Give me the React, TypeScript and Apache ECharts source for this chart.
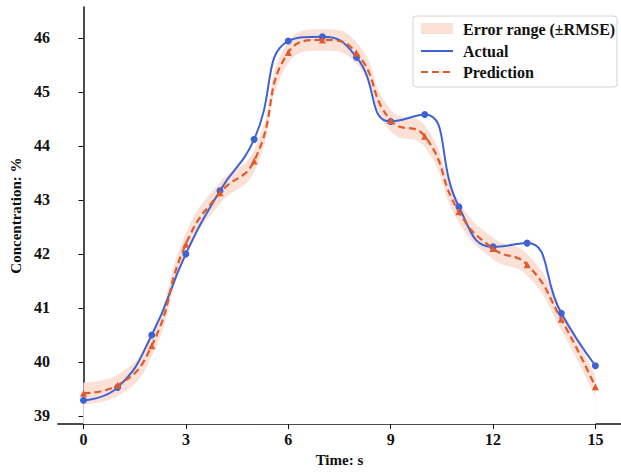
import React, { useEffect, useRef } from "react";
import * as echarts from "echarts";

const times = [0, 1, 2, 3, 4, 5, 6, 7, 8, 9, 10, 11, 12, 13, 14, 15];
const actual = [39.29, 39.53, 40.5, 42.0, 43.17, 44.12, 45.94, 46.02, 45.64, 44.45, 44.58, 42.87, 42.13, 42.2, 40.9, 39.93];
const prediction = [39.42, 39.57, 40.3, 42.18, 43.13, 43.72, 45.73, 45.96, 45.72, 44.47, 44.18, 42.78, 42.1, 41.8, 40.79, 39.54];
const RMSE = 0.2;
const xTicks = [0, 3, 6, 9, 12, 15];
const yTicks = [39, 40, 41, 42, 43, 44, 45, 46];

const FONT = "'Liberation Serif', 'Times New Roman', serif";
const BLUE = "#3d62d6";
const ORANGE = "#e05a2c";
const BAND = "#fbe0d5";

export default function App() {
  const ref = useRef<HTMLDivElement>(null);
  useEffect(() => {
    if (!ref.current) return;
    const chart = echarts.init(ref.current, null, { renderer: "svg" });
    const upper = prediction.map((v, i) => [times[i], v + RMSE]);
    const lower = prediction.map((v, i) => [times[i], v - RMSE]);
    const axisText = { fontFamily: FONT, fontWeight: "bold", fontSize: 16, color: "#111" };
    const SM = 0.5;
    chart.setOption({
      animation: false,
      backgroundColor: "#fff",
      grid: { left: 52, top: 7, width: 580, height: 422, containLabel: false },
      xAxis: {
        type: "value",
        min: -0.75,
        max: 15.75,
        name: "Time: s",
        nameLocation: "middle",
        nameGap: 27,
        nameTextStyle: { ...axisText, fontSize: 15 },
        axisLine: { show: true, lineStyle: { color: "#111", width: 1.5 } },
        axisTick: { show: true, inside: false, length: 5, customValues: xTicks, lineStyle: { color: "#111", width: 1 } },
        axisLabel: { customValues: xTicks, margin: 7, ...axisText },
        splitLine: { show: false },
      },
      yAxis: {
        type: "value",
        min: 38.85,
        max: 46.57,
        name: "Concentration: %",
        nameLocation: "middle",
        nameGap: 30,
        nameRotate: 90,
        nameTextStyle: { ...axisText, fontSize: 15 },
        axisLine: { show: true, lineStyle: { color: "#111", width: 1.5 } },
        axisTick: { show: true, inside: false, length: 5, customValues: yTicks, lineStyle: { color: "#111", width: 1 } },
        axisLabel: { customValues: yTicks, margin: 8, ...axisText },
        splitLine: { show: false },
      },
      series: [
        {
          name: "Error range (±RMSE)",
          type: "line",
          data: upper,
          smooth: SM,
          symbol: "none",
          lineStyle: { width: 0, opacity: 0 },
          areaStyle: { color: BAND, opacity: 1 },
          silent: true,
          z: 1,
        },
        {
          name: "band-lower",
          type: "line",
          data: lower,
          smooth: SM,
          symbol: "none",
          lineStyle: { width: 0, opacity: 0 },
          areaStyle: { color: "#ffffff", opacity: 1 },
          silent: true,
          z: 1,
        },
        {
          name: "Actual",
          type: "line",
          data: actual.map((v, i) => [times[i], v]),
          smooth: SM,
          symbol: "circle",
          symbolSize: 7,
          itemStyle: { color: BLUE },
          lineStyle: { color: BLUE, width: 2 },
          z: 3,
        },
        {
          name: "Prediction",
          type: "line",
          data: prediction.map((v, i) => [times[i], v]),
          smooth: SM,
          symbol: "triangle",
          symbolSize: 7,
          itemStyle: { color: ORANGE },
          lineStyle: { color: ORANGE, width: 2.2, type: [7, 4] },
          z: 4,
        },
      ],
      graphic: [
        {
          type: "rect",
          shape: { x: 413, y: 16, width: 204, height: 71, r: 3 },
          style: { fill: "#fff", stroke: "#d4d4d4", lineWidth: 1 },
          z: 10,
        },
        {
          type: "rect",
          shape: { x: 421, y: 23, width: 32, height: 11 },
          style: { fill: BAND },
          z: 11,
        },
        {
          type: "line",
          shape: { x1: 421, y1: 51, x2: 453, y2: 51 },
          style: { stroke: BLUE, lineWidth: 2 },
          z: 11,
        },
        {
          type: "line",
          shape: { x1: 421, y1: 72, x2: 453, y2: 72 },
          style: { stroke: ORANGE, lineWidth: 2.2, lineDash: [7, 4] },
          z: 11,
        },
        {
          type: "text",
          x: 463,
          y: 29,
          style: { text: "Error range (±RMSE)", fontFamily: FONT, fontWeight: "bold", fontSize: 16, fill: "#111", verticalAlign: "middle" },
          z: 11,
        },
        {
          type: "text",
          x: 463,
          y: 51,
          style: { text: "Actual", fontFamily: FONT, fontWeight: "bold", fontSize: 16, fill: "#111", verticalAlign: "middle" },
          z: 11,
        },
        {
          type: "text",
          x: 463,
          y: 72,
          style: { text: "Prediction", fontFamily: FONT, fontWeight: "bold", fontSize: 16, fill: "#111", verticalAlign: "middle" },
          z: 11,
        },
      ],
    });
    return () => chart.dispose();
  }, []);
  return <div ref={ref} style={{ width: 621, height: 472, position: "absolute", left: 0, top: 0 }} />;
}
